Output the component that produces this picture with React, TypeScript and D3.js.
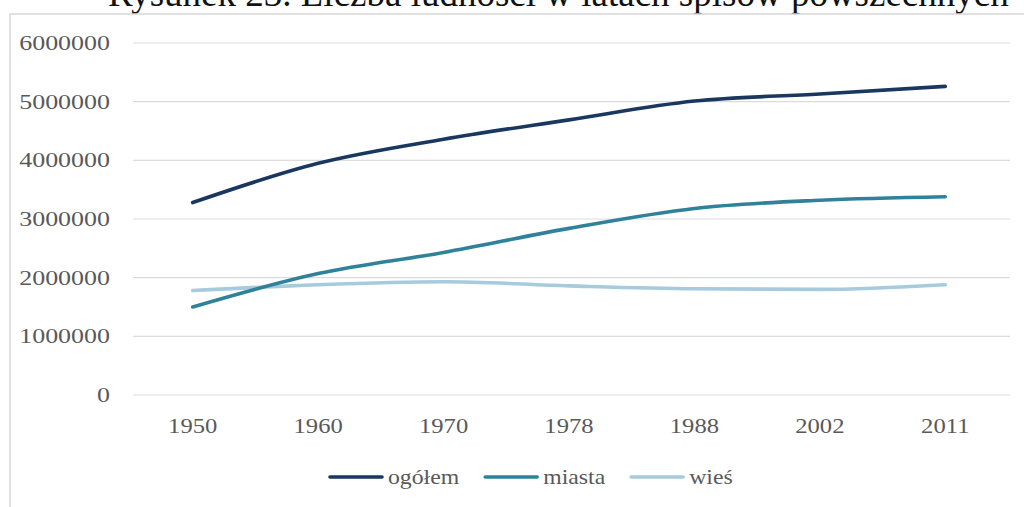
// @ts-nocheck
import React, { useEffect, useRef } from "react";
import * as d3 from "d3";

const years = ["1950", "1960", "1970", "1978", "1988", "2002", "2011"];
const ogolem = [3280000, 3950000, 4360000, 4690000, 5010000, 5130000, 5260000];
const miasta = [1500000, 2070000, 2430000, 2840000, 3180000, 3320000, 3380000];
const wies = [1780000, 1880000, 1930000, 1860000, 1810000, 1800000, 1880000];
const yTicks = [0, 1000000, 2000000, 3000000, 4000000, 5000000, 6000000];

const seriesNames = ["ogółem", "miasta", "wieś"];
const seriesColors = ["#1a3760", "#2f8299", "#a6cbdc"];

const FONT = "'Liberation Serif', 'Times New Roman', serif";

const Chart = () => {
  const svgRef = useRef();

  useEffect(() => {
    const width = 1024;
    const height = 507;
    const svg = d3.select(svgRef.current);
    svg.selectAll("*").remove();

    // title, cut off at the top of the page
    svg
      .append("text")
      .attr("x", 108)
      .attr("y", 6)
      .style("font-family", FONT)
      .style("font-size", "37px")
      .style("fill", "#111")
      .text("Rysunek 23. Liczba ludności w latach spisów powszechnych");

    // chart frame
    svg
      .append("rect")
      .attr("x", 10)
      .attr("y", 14)
      .attr("width", width + 20)
      .attr("height", height + 20)
      .style("fill", "white")
      .style("stroke", "#d6d6d6")
      .style("stroke-width", 1.5);

    const x = d3.scaleBand().domain(years).range([130, 1008]);
    const y = d3.scaleLinear().domain([0, 6000000]).range([395, 43]);

    // grid
    svg
      .append("g")
      .selectAll("line")
      .data(yTicks)
      .enter()
      .append("line")
      .attr("x1", 133)
      .attr("x2", 1010)
      .attr("y1", (d) => y(d))
      .attr("y2", (d) => y(d))
      .style("stroke", "#dcdcdc")
      .style("stroke-width", 1.2);

    const stretchedText = (g, tx, ty, anchor, label, size, sx) =>
      g
        .append("text")
        .attr("transform", `translate(${tx},${ty}) scale(${sx},1)`)
        .style("text-anchor", anchor)
        .style("font-family", FONT)
        .style("font-size", `${size}px`)
        .style("fill", "#595959")
        .text(label);

    // y labels
    const yg = svg.append("g");
    yTicks.forEach((t) =>
      stretchedText(yg, 110, y(t) + 7, "end", String(t), 22, 1.18),
    );

    // x labels
    const xg = svg.append("g");
    years.forEach((yr) =>
      stretchedText(xg, x(yr) + x.bandwidth() / 2, 433, "middle", yr, 22, 1.12),
    );

    const line = d3
      .line()
      .x((d, i) => x(years[i]) + x.bandwidth() / 2)
      .y((d) => y(d))
      .curve(d3.curveMonotoneX);

    const allSeries = [wies, miasta, ogolem];
    const allColors = [seriesColors[2], seriesColors[1], seriesColors[0]];
    allSeries.forEach((s, i) => {
      svg
        .append("path")
        .datum(s)
        .attr("d", line)
        .style("fill", "none")
        .style("stroke", allColors[i])
        .style("stroke-width", 3.6)
        .style("stroke-linecap", "round")
        .style("stroke-linejoin", "round");
    });

    // legend
    const lg = svg.append("g");
    let lx = 330;
    const ly = 477;
    seriesNames.forEach((name, i) => {
      lg.append("line")
        .attr("x1", lx)
        .attr("x2", lx + 52)
        .attr("y1", ly)
        .attr("y2", ly)
        .style("stroke", seriesColors[i])
        .style("stroke-width", 3.6)
        .style("stroke-linecap", "round");
      const t = stretchedText(lg, lx + 58, ly + 7, "start", name, 22, 1.08);
      const w = t.node().getComputedTextLength() * 1.08;
      lx += 58 + w + 26;
    });
  }, []);

  return (
    <svg
      ref={svgRef}
      width={1024}
      height={507}
      style={{ position: "absolute", left: 0, top: 0, display: "block" }}
    ></svg>
  );
};

export default function App() {
  return <Chart />;
}
